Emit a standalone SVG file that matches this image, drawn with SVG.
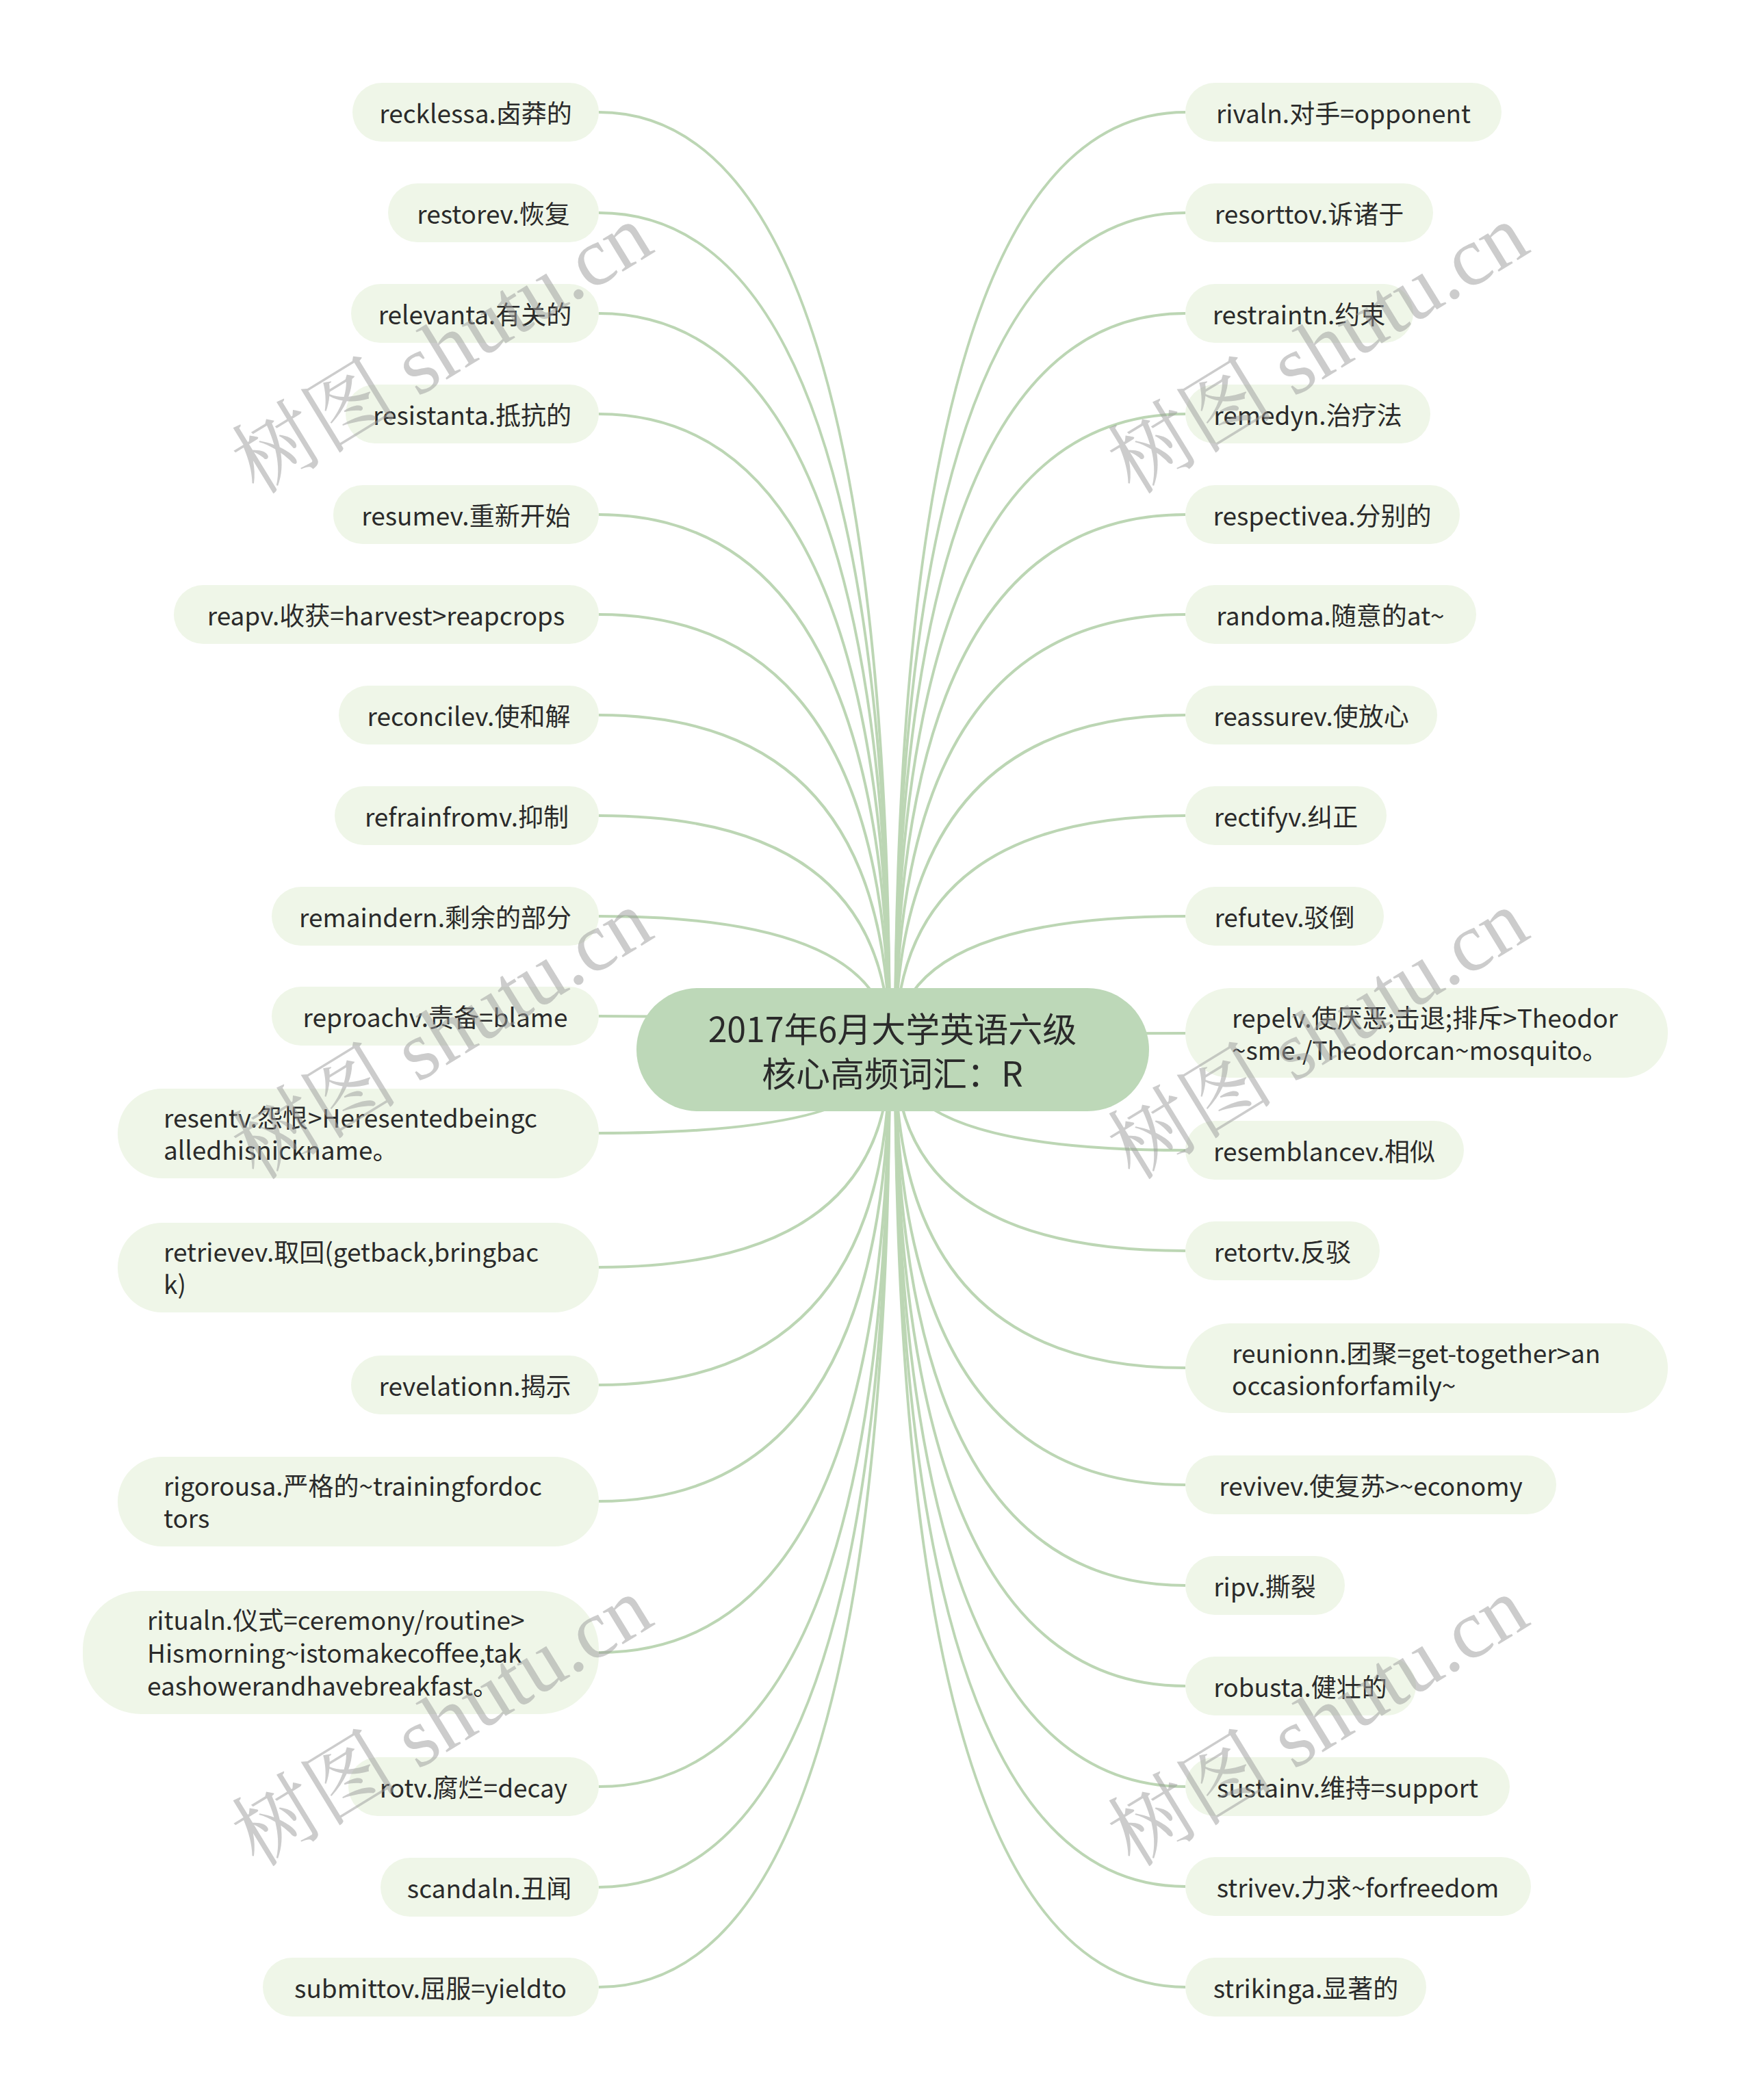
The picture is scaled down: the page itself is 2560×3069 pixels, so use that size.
<svg xmlns="http://www.w3.org/2000/svg" width="2560" height="3069" viewBox="0 0 2560 3069">
<style>
.bg{fill:#ffffff}
.link{fill:none;stroke:#bcd6b4;stroke-width:4}
.node rect{fill:#eff6e8}
.root rect{fill:#bdd8b8}
.t{font-family:"Noto Sans CJK SC","Noto Sans",sans-serif;font-size:37px;fill:#2a2a2a;dominant-baseline:central}
.m{text-anchor:middle}
.rt{font-family:"Noto Sans CJK SC","Noto Sans",sans-serif;font-size:50px;fill:#2a2a2a;text-anchor:middle;dominant-baseline:central}
.wm{font-family:"Liberation Serif","Noto Serif CJK SC","Noto Sans CJK SC",serif;font-size:122px;fill:#999999;fill-opacity:0.5;text-anchor:middle;dominant-baseline:central}
</style>
<rect class="bg" x="0" y="0" width="2560" height="3069"/>
<g id="connectors">
<path class="link" d="M1300,1534 Q1300,164 875,164"/>
<path class="link" d="M1300,1534 Q1300,311 875,311"/>
<path class="link" d="M1300,1534 Q1300,458 875,458"/>
<path class="link" d="M1300,1534 Q1300,605 875,605"/>
<path class="link" d="M1300,1534 Q1300,752 875,752"/>
<path class="link" d="M1300,1534 Q1300,898 875,898"/>
<path class="link" d="M1300,1534 Q1300,1045 875,1045"/>
<path class="link" d="M1300,1534 Q1300,1192 875,1192"/>
<path class="link" d="M1300,1534 Q1300,1339 875,1339"/>
<path class="link" d="M1300,1534 Q1300,1485 875,1485"/>
<path class="link" d="M1300,1534 Q1300,1656 875,1656"/>
<path class="link" d="M1300,1534 Q1300,1852 875,1852"/>
<path class="link" d="M1300,1534 Q1300,2024 875,2024"/>
<path class="link" d="M1300,1534 Q1300,2194 875,2194"/>
<path class="link" d="M1300,1534 Q1300,2415 875,2415"/>
<path class="link" d="M1300,1534 Q1300,2611 875,2611"/>
<path class="link" d="M1300,1534 Q1300,2758 875,2758"/>
<path class="link" d="M1300,1534 Q1300,2904 875,2904"/>
<path class="link" d="M1308,1534 Q1308,164 1732,164"/>
<path class="link" d="M1308,1534 Q1308,311 1732,311"/>
<path class="link" d="M1308,1534 Q1308,458 1732,458"/>
<path class="link" d="M1308,1534 Q1308,605 1732,605"/>
<path class="link" d="M1308,1534 Q1308,752 1732,752"/>
<path class="link" d="M1308,1534 Q1308,898 1732,898"/>
<path class="link" d="M1308,1534 Q1308,1045 1732,1045"/>
<path class="link" d="M1308,1534 Q1308,1192 1732,1192"/>
<path class="link" d="M1308,1534 Q1308,1339 1732,1339"/>
<path class="link" d="M1308,1534 Q1308,1510 1732,1510"/>
<path class="link" d="M1308,1534 Q1308,1681 1732,1681"/>
<path class="link" d="M1308,1534 Q1308,1828 1732,1828"/>
<path class="link" d="M1308,1534 Q1308,1999 1732,1999"/>
<path class="link" d="M1308,1534 Q1308,2170 1732,2170"/>
<path class="link" d="M1308,1534 Q1308,2317 1732,2317"/>
<path class="link" d="M1308,1534 Q1308,2464 1732,2464"/>
<path class="link" d="M1308,1534 Q1308,2611 1732,2611"/>
<path class="link" d="M1308,1534 Q1308,2757 1732,2757"/>
<path class="link" d="M1308,1534 Q1308,2904 1732,2904"/>
</g>
<g id="root" class="root">
<rect x="930" y="1444" width="749" height="180" rx="90"/>
<text class="rt" x="1304" y="1501">2017年6月大学英语六级<tspan x="1304" dy="65">核心高频词汇：R</tspan></text>
</g>
<g id="L1" class="node"><rect x="515" y="121" width="360" height="86" rx="43"/><text class="t m" x="695" y="164">recklessa.卤莽的</text></g>
<g id="L2" class="node"><rect x="567" y="268" width="308" height="86" rx="43"/><text class="t m" x="721" y="311">restorev.恢复</text></g>
<g id="L3" class="node"><rect x="513" y="415" width="362" height="86" rx="43"/><text class="t m" x="694" y="458">relevanta.有关的</text></g>
<g id="L4" class="node"><rect x="505" y="562" width="370" height="86" rx="43"/><text class="t m" x="690" y="605">resistanta.抵抗的</text></g>
<g id="L5" class="node"><rect x="487" y="709" width="388" height="86" rx="43"/><text class="t m" x="681" y="752">resumev.重新开始</text></g>
<g id="L6" class="node"><rect x="254" y="855" width="621" height="86" rx="43"/><text class="t m" x="564" y="898">reapv.收获=harvest&gt;reapcrops</text></g>
<g id="L7" class="node"><rect x="495" y="1002" width="380" height="86" rx="43"/><text class="t m" x="685" y="1045">reconcilev.使和解</text></g>
<g id="L8" class="node"><rect x="489" y="1149" width="386" height="86" rx="43"/><text class="t m" x="682" y="1192">refrainfromv.抑制</text></g>
<g id="L9" class="node"><rect x="397" y="1296" width="478" height="86" rx="43"/><text class="t m" x="636" y="1339">remaindern.剩余的部分</text></g>
<g id="L10" class="node"><rect x="397" y="1442" width="478" height="86" rx="43"/><text class="t m" x="636" y="1485">reproachv.责备=blame</text></g>
<g id="L11" class="node"><rect x="172" y="1591" width="703" height="131" rx="65"/><text class="t" x="239" y="1632">resentv.怨恨&gt;Heresentedbeingc<tspan x="239" dy="47">alledhisnickname。</tspan></text></g>
<g id="L12" class="node"><rect x="172" y="1787" width="703" height="131" rx="65"/><text class="t" x="239" y="1828">retrievev.取回(getback,bringbac<tspan x="239" dy="47">k)</tspan></text></g>
<g id="L13" class="node"><rect x="513" y="1981" width="362" height="86" rx="43"/><text class="t m" x="694" y="2024">revelationn.揭示</text></g>
<g id="L14" class="node"><rect x="172" y="2129" width="703" height="131" rx="65"/><text class="t" x="239" y="2170">rigorousa.严格的~trainingfordoc<tspan x="239" dy="47">tors</tspan></text></g>
<g id="L15" class="node"><rect x="121" y="2325" width="754" height="180" rx="85"/><text class="t" x="215" y="2366">ritualn.仪式=ceremony/routine&gt;<tspan x="215" dy="48">Hismorning~istomakecoffee,tak</tspan><tspan x="215" dy="48">eashowerandhavebreakfast。</tspan></text></g>
<g id="L16" class="node"><rect x="509" y="2568" width="366" height="86" rx="43"/><text class="t m" x="692" y="2611">rotv.腐烂=decay</text></g>
<g id="L17" class="node"><rect x="556" y="2715" width="319" height="86" rx="43"/><text class="t m" x="715" y="2758">scandaln.丑闻</text></g>
<g id="L18" class="node"><rect x="384" y="2861" width="491" height="86" rx="43"/><text class="t m" x="629" y="2904">submittov.屈服=yieldto</text></g>
<g id="R1" class="node"><rect x="1732" y="121" width="462" height="86" rx="43"/><text class="t m" x="1963" y="164">rivaln.对手=opponent</text></g>
<g id="R2" class="node"><rect x="1732" y="268" width="362" height="86" rx="43"/><text class="t m" x="1913" y="311">resorttov.诉诸于</text></g>
<g id="R3" class="node"><rect x="1732" y="415" width="333" height="86" rx="43"/><text class="t m" x="1898" y="458">restraintn.约束</text></g>
<g id="R4" class="node"><rect x="1732" y="562" width="358" height="86" rx="43"/><text class="t m" x="1911" y="605">remedyn.治疗法</text></g>
<g id="R5" class="node"><rect x="1732" y="709" width="401" height="86" rx="43"/><text class="t m" x="1932" y="752">respectivea.分别的</text></g>
<g id="R6" class="node"><rect x="1732" y="855" width="425" height="86" rx="43"/><text class="t m" x="1944" y="898">randoma.随意的at~</text></g>
<g id="R7" class="node"><rect x="1732" y="1002" width="368" height="86" rx="43"/><text class="t m" x="1916" y="1045">reassurev.使放心</text></g>
<g id="R8" class="node"><rect x="1732" y="1149" width="294" height="86" rx="43"/><text class="t m" x="1879" y="1192">rectifyv.纠正</text></g>
<g id="R9" class="node"><rect x="1732" y="1296" width="290" height="86" rx="43"/><text class="t m" x="1877" y="1339">refutev.驳倒</text></g>
<g id="R10" class="node"><rect x="1732" y="1444" width="705" height="131" rx="65"/><text class="t" x="1800" y="1486">repelv.使厌恶;击退;排斥&gt;Theodor<tspan x="1800" dy="47">~sme./Theodorcan~mosquito。</tspan></text></g>
<g id="R11" class="node"><rect x="1732" y="1638" width="407" height="86" rx="43"/><text class="t m" x="1935" y="1681">resemblancev.相似</text></g>
<g id="R12" class="node"><rect x="1732" y="1785" width="284" height="86" rx="43"/><text class="t m" x="1874" y="1828">retortv.反驳</text></g>
<g id="R13" class="node"><rect x="1732" y="1934" width="705" height="131" rx="65"/><text class="t" x="1800" y="1976">reunionn.团聚=get-together&gt;an<tspan x="1800" dy="47">occasionforfamily~</tspan></text></g>
<g id="R14" class="node"><rect x="1732" y="2127" width="542" height="86" rx="43"/><text class="t m" x="2003" y="2170">revivev.使复苏&gt;~economy</text></g>
<g id="R15" class="node"><rect x="1732" y="2274" width="233" height="86" rx="43"/><text class="t m" x="1848" y="2317">ripv.撕裂</text></g>
<g id="R16" class="node"><rect x="1732" y="2421" width="337" height="86" rx="43"/><text class="t m" x="1900" y="2464">robusta.健壮的</text></g>
<g id="R17" class="node"><rect x="1732" y="2568" width="474" height="86" rx="43"/><text class="t m" x="1969" y="2611">sustainv.维持=support</text></g>
<g id="R18" class="node"><rect x="1732" y="2714" width="505" height="86" rx="43"/><text class="t m" x="1984" y="2757">strivev.力求~forfreedom</text></g>
<g id="R19" class="node"><rect x="1732" y="2861" width="352" height="86" rx="43"/><text class="t m" x="1908" y="2904">strikinga.显著的</text></g>
<g id="watermarks">
<text class="wm" transform="translate(646,510) rotate(-31.5)">树图 shutu.cn</text>
<text class="wm" transform="translate(1926,510) rotate(-31.5)">树图 shutu.cn</text>
<text class="wm" transform="translate(646,1512) rotate(-31.5)">树图 shutu.cn</text>
<text class="wm" transform="translate(1926,1512) rotate(-31.5)">树图 shutu.cn</text>
<text class="wm" transform="translate(646,2516) rotate(-31.5)">树图 shutu.cn</text>
<text class="wm" transform="translate(1926,2516) rotate(-31.5)">树图 shutu.cn</text>
</g>
</svg>
